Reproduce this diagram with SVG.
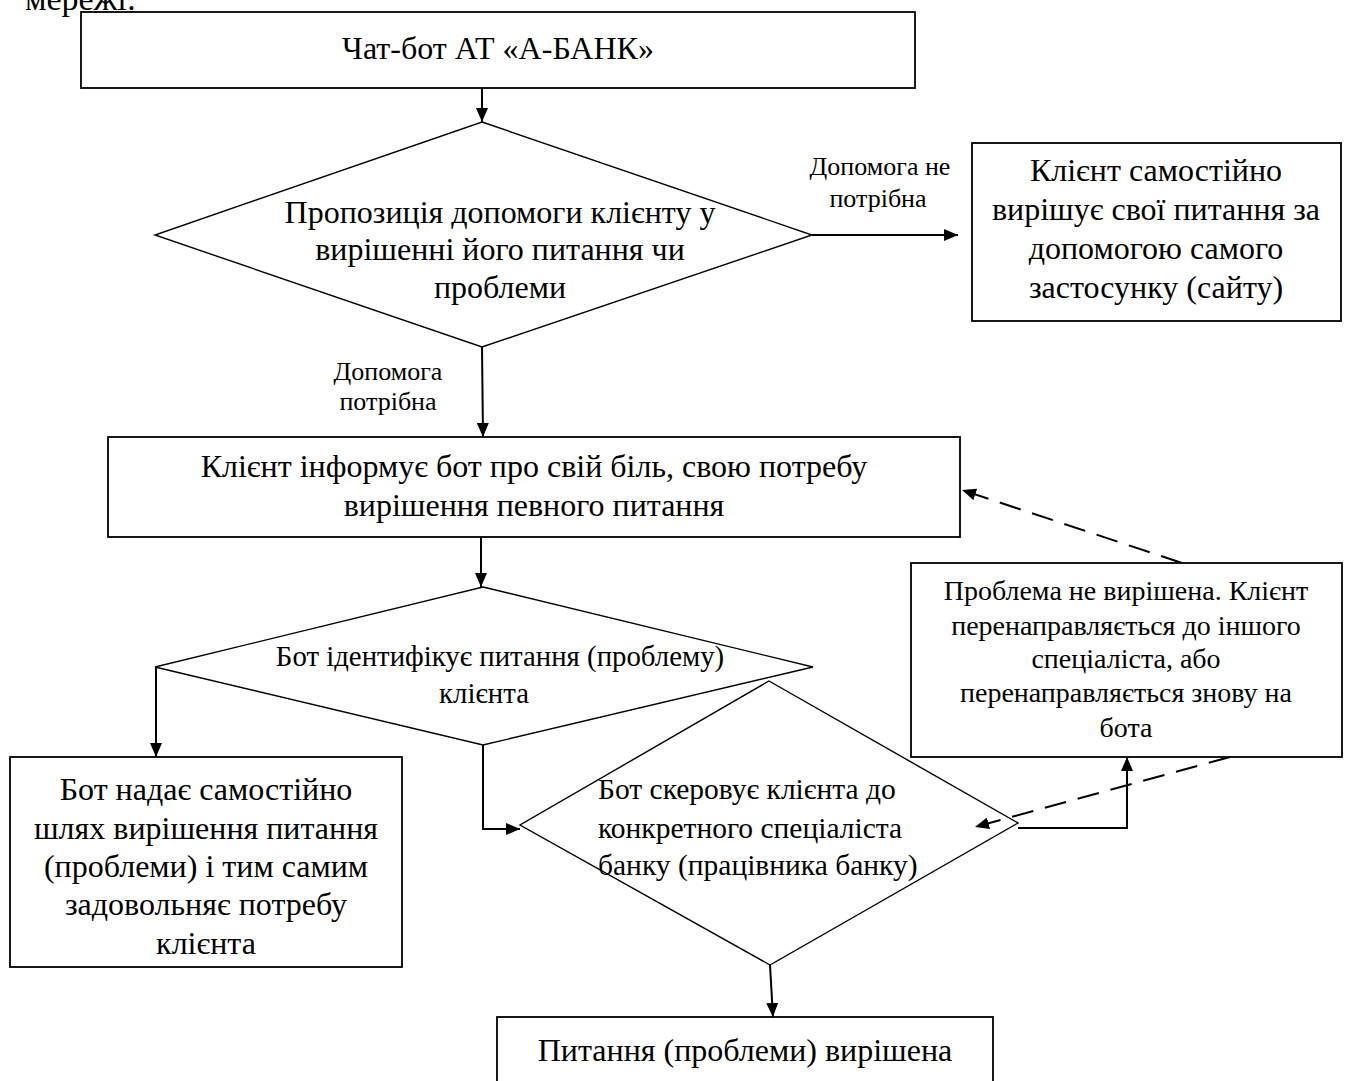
<svg xmlns="http://www.w3.org/2000/svg" width="1349" height="1081" viewBox="0 0 1349 1081">
<style>
text{font-family:"Liberation Serif","Times New Roman",serif;fill:#000}
.m{font-size:32px;text-anchor:middle}
.s{font-size:28px;text-anchor:middle}
.sl{font-size:29.5px}
.lb{font-size:26px;text-anchor:middle}
.box{fill:#fff;stroke:#000;stroke-width:1.8}
.dia{fill:#fff;stroke:#000;stroke-width:1.4}
.c{fill:none;stroke:#000;stroke-width:2}
.d{fill:none;stroke:#000;stroke-width:2;stroke-dasharray:22 12}
</style>
<defs>
<marker id="ah" markerWidth="14" markerHeight="12" refX="14" refY="6" orient="auto" markerUnits="userSpaceOnUse"><path d="M0,0 L14,6 L0,12 z" fill="#000"/></marker>
</defs>
<rect width="1349" height="1081" fill="#fff"/>
<text x="25" y="10" style="font-size:34px">мережі:</text>

<g id="n1"><rect class="box" x="81" y="12" width="834" height="76"/><text class="m" x="498" y="59">Чат-бот АТ «А-БАНК»</text></g>

<g id="n2"><polygon class="dia" points="482,122 812,235 482,347 155,235"/>
<text class="m" x="500" y="223">Пропозиція допомоги клієнту у</text>
<text class="m" x="500" y="260">вирішенні його питання чи</text>
<text class="m" x="500" y="298">проблеми</text></g>

<g id="n3"><rect class="box" x="972" y="143" width="369" height="178"/>
<text class="m" x="1156" y="181">Клієнт самостійно</text>
<text class="m" x="1156" y="220">вирішує свої питання за</text>
<text class="m" x="1156" y="259">допомогою самого</text>
<text class="m" x="1156" y="298">застосунку (сайту)</text></g>

<g id="n4"><rect class="box" x="108" y="437" width="852" height="100"/>
<text class="m" x="534" y="477">Клієнт інформує бот про свій біль, свою потребу</text>
<text class="m" x="534" y="516">вирішення певного питання</text></g>

<g id="n5"><polygon class="dia" points="483,587 813,667 483,745 155,667"/>
<text class="s" x="500" y="666" style="font-size:28.8px">Бот ідентифікує питання (проблему)</text>
<text class="s" x="484" y="703" style="font-size:28.8px">клієнта</text></g>

<g id="n6"><polygon class="dia" points="769,681 1018,823 770,965 520,825"/>
<text class="sl" x="598" y="799">Бот скеровує клієнта до</text>
<text class="sl" x="598" y="838">конкретного спеціаліста</text>
<text class="sl" x="598" y="875">банку (працівника банку)</text></g>

<g id="n7"><rect class="box" x="10" y="757" width="392" height="210"/>
<text class="m" x="206" y="800">Бот надає самостійно</text>
<text class="m" x="206" y="839">шлях вирішення питання</text>
<text class="m" x="206" y="877">(проблеми) і тим самим</text>
<text class="m" x="206" y="915">задовольняє потребу</text>
<text class="m" x="206" y="954">клієнта</text></g>

<g id="n8"><rect class="box" x="911" y="563" width="431" height="194"/>
<text class="s" x="1126" y="600">Проблема не вирішена. Клієнт</text>
<text class="s" x="1126" y="635">перенаправляється до іншого</text>
<text class="s" x="1126" y="668">спеціаліста, або</text>
<text class="s" x="1126" y="702">перенаправляється знову на</text>
<text class="s" x="1126" y="737">бота</text></g>

<g id="n9"><rect class="box" x="497" y="1017" width="496" height="80"/>
<text class="m" x="745" y="1061">Питання (проблеми) вирішена</text></g>

<g id="connectors">
<path class="c" d="M482,88 L482,122" marker-end="url(#ah)"/>
<path class="c" d="M812,235 L958,235" marker-end="url(#ah)"/>
<path class="c" d="M482,347 L483,437" marker-end="url(#ah)"/>
<path class="c" d="M481,537 L481,587" marker-end="url(#ah)"/>
<path class="c" d="M156,667 L156,757" marker-end="url(#ah)"/>
<path class="c" d="M483,745 L483,829 L520,829" marker-end="url(#ah)"/>
<path class="c" d="M1018,828 L1127,828 L1127,757" marker-end="url(#ah)"/>
<path class="c" d="M770,965 L773,1017" marker-end="url(#ah)"/>
<path class="d" d="M1182,563 L962,490" marker-end="url(#ah)"/>
<path class="d" d="M1230,757 L975,827" marker-end="url(#ah)"/>
<text class="lb" x="880" y="175">Допомога не</text>
<text class="lb" x="878" y="207">потрібна</text>
<text class="lb" x="388" y="380">Допомога</text>
<text class="lb" x="388" y="410">потрібна</text>
</g>
</svg>
